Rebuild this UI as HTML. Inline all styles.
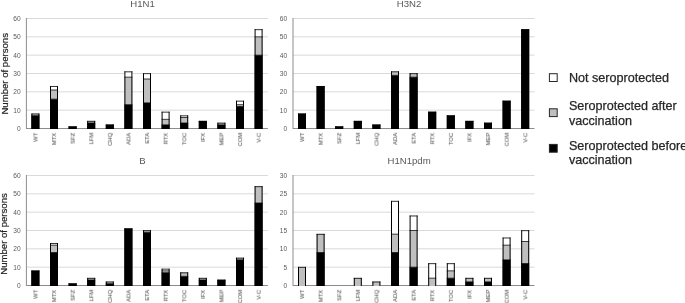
<!DOCTYPE html>
<html><head><meta charset="utf-8"><title>Seroprotection charts</title>
<style>
html,body{margin:0;padding:0;background:#fff;}
body{width:685px;height:303px;overflow:hidden;}
svg{display:block;will-change:transform;font-family:"Liberation Sans",sans-serif;}
</style></head><body>
<svg width="685" height="303" viewBox="0 0 685 303">
<defs><filter id="sb" x="-20%" y="-20%" width="140%" height="140%"><feGaussianBlur stdDeviation="0.3"/></filter></defs>
<rect width="685" height="303" fill="#fff"/>
<line x1="26.4" y1="110.17" x2="267.9" y2="110.17" stroke="#d9d9d9" stroke-width="1"/>
<line x1="26.4" y1="91.83" x2="267.9" y2="91.83" stroke="#d9d9d9" stroke-width="1"/>
<line x1="26.4" y1="73.5" x2="267.9" y2="73.5" stroke="#d9d9d9" stroke-width="1"/>
<line x1="26.4" y1="55.17" x2="267.9" y2="55.17" stroke="#d9d9d9" stroke-width="1"/>
<line x1="26.4" y1="36.83" x2="267.9" y2="36.83" stroke="#d9d9d9" stroke-width="1"/>
<line x1="26.4" y1="18.5" x2="267.9" y2="18.5" stroke="#d9d9d9" stroke-width="1"/>
<text x="20.6" y="130.88" font-size="6.6" fill="#595959" text-anchor="end">0</text>
<text x="20.6" y="112.54" font-size="6.6" fill="#595959" text-anchor="end">10</text>
<text x="20.6" y="94.21" font-size="6.6" fill="#595959" text-anchor="end">20</text>
<text x="20.6" y="75.88" font-size="6.6" fill="#595959" text-anchor="end">30</text>
<text x="20.6" y="57.54" font-size="6.6" fill="#595959" text-anchor="end">40</text>
<text x="20.6" y="39.21" font-size="6.6" fill="#595959" text-anchor="end">50</text>
<text x="20.6" y="20.88" font-size="6.6" fill="#595959" text-anchor="end">60</text>
<line x1="26.4" y1="18" x2="26.4" y2="129" stroke="#8c8c8c" stroke-width="1"/>
<line x1="26.4" y1="128.5" x2="267.9" y2="128.5" stroke="#8c8c8c" stroke-width="1"/>
<rect x="31.4" y="115.67" width="8" height="13.33" fill="#000"/>
<rect x="31.4" y="113.58" width="8" height="2.08" fill="#bfbfbf"/>
<path d="M31.9 129V113.58M38.9 113.58V129" fill="none" stroke="#000" stroke-width="1"/>
<line x1="31.4" y1="113.98" x2="39.4" y2="113.98" stroke="#000" stroke-width="0.8"/>
<line x1="31.4" y1="115.67" x2="39.4" y2="115.67" stroke="#000" stroke-width="0.75"/>
<text transform="translate(37.49 132.8) rotate(-90) scale(1 1)" font-size="5.8" fill="#595959" stroke="#595959" stroke-width="0.08" text-anchor="end" filter="url(#sb)">WT</text>
<rect x="50" y="99.17" width="8" height="29.83" fill="#000"/>
<rect x="50" y="90" width="8" height="9.17" fill="#bfbfbf"/>
<rect x="50" y="86.08" width="8" height="3.92" fill="#fff"/>
<path d="M50.5 129V86.08M57.5 86.08V129" fill="none" stroke="#000" stroke-width="1"/>
<line x1="50" y1="86.48" x2="58" y2="86.48" stroke="#000" stroke-width="0.8"/>
<line x1="50" y1="99.17" x2="58" y2="99.17" stroke="#000" stroke-width="0.75"/>
<line x1="50" y1="90" x2="58" y2="90" stroke="#000" stroke-width="0.75"/>
<text transform="translate(56.09 132.8) rotate(-90) scale(1 1)" font-size="5.8" fill="#595959" stroke="#595959" stroke-width="0.08" text-anchor="end" filter="url(#sb)">MTX</text>
<rect x="68.6" y="126.42" width="8" height="2.58" fill="#000"/>
<path d="M69.1 129V126.42M76.1 126.42V129" fill="none" stroke="#000" stroke-width="1"/>
<line x1="68.6" y1="126.82" x2="76.6" y2="126.82" stroke="#000" stroke-width="0.8"/>
<text transform="translate(74.69 132.8) rotate(-90) scale(1 1)" font-size="5.8" fill="#595959" stroke="#595959" stroke-width="0.08" text-anchor="end" filter="url(#sb)">SFZ</text>
<rect x="87.2" y="123" width="8" height="6" fill="#000"/>
<rect x="87.2" y="120.92" width="8" height="2.08" fill="#bfbfbf"/>
<path d="M87.7 129V120.92M94.7 120.92V129" fill="none" stroke="#000" stroke-width="1"/>
<line x1="87.2" y1="121.32" x2="95.2" y2="121.32" stroke="#000" stroke-width="0.8"/>
<line x1="87.2" y1="123" x2="95.2" y2="123" stroke="#000" stroke-width="0.75"/>
<text transform="translate(93.29 132.8) rotate(-90) scale(1 1)" font-size="5.8" fill="#595959" stroke="#595959" stroke-width="0.08" text-anchor="end" filter="url(#sb)">LFM</text>
<rect x="105.8" y="124.58" width="8" height="4.42" fill="#000"/>
<path d="M106.3 129V124.58M113.3 124.58V129" fill="none" stroke="#000" stroke-width="1"/>
<line x1="105.8" y1="124.98" x2="113.8" y2="124.98" stroke="#000" stroke-width="0.8"/>
<text transform="translate(111.89 132.8) rotate(-90) scale(1 1)" font-size="5.8" fill="#595959" stroke="#595959" stroke-width="0.08" text-anchor="end" filter="url(#sb)">CHQ</text>
<rect x="124.4" y="104.67" width="8" height="24.33" fill="#000"/>
<rect x="124.4" y="77.17" width="8" height="27.5" fill="#bfbfbf"/>
<rect x="124.4" y="71.42" width="8" height="5.75" fill="#fff"/>
<path d="M124.9 129V71.42M131.9 71.42V129" fill="none" stroke="#000" stroke-width="1"/>
<line x1="124.4" y1="71.82" x2="132.4" y2="71.82" stroke="#000" stroke-width="0.8"/>
<line x1="124.4" y1="104.67" x2="132.4" y2="104.67" stroke="#000" stroke-width="0.75"/>
<line x1="124.4" y1="77.17" x2="132.4" y2="77.17" stroke="#000" stroke-width="0.75"/>
<text transform="translate(130.49 132.8) rotate(-90) scale(1 1)" font-size="5.8" fill="#595959" stroke="#595959" stroke-width="0.08" text-anchor="end" filter="url(#sb)">ADA</text>
<rect x="143" y="102.83" width="8" height="26.17" fill="#000"/>
<rect x="143" y="79" width="8" height="23.83" fill="#bfbfbf"/>
<rect x="143" y="73.25" width="8" height="5.75" fill="#fff"/>
<path d="M143.5 129V73.25M150.5 73.25V129" fill="none" stroke="#000" stroke-width="1"/>
<line x1="143" y1="73.65" x2="151" y2="73.65" stroke="#000" stroke-width="0.8"/>
<line x1="143" y1="102.83" x2="151" y2="102.83" stroke="#000" stroke-width="0.75"/>
<line x1="143" y1="79" x2="151" y2="79" stroke="#000" stroke-width="0.75"/>
<text transform="translate(149.09 132.8) rotate(-90) scale(1 1)" font-size="5.8" fill="#595959" stroke="#595959" stroke-width="0.08" text-anchor="end" filter="url(#sb)">ETA</text>
<rect x="161.6" y="124.83" width="8" height="4.17" fill="#000"/>
<rect x="161.6" y="119.33" width="8" height="5.5" fill="#bfbfbf"/>
<rect x="161.6" y="111.75" width="8" height="7.58" fill="#fff"/>
<path d="M162.1 129V111.75M169.1 111.75V129" fill="none" stroke="#000" stroke-width="1"/>
<line x1="161.6" y1="112.15" x2="169.6" y2="112.15" stroke="#000" stroke-width="0.8"/>
<line x1="161.6" y1="124.83" x2="169.6" y2="124.83" stroke="#000" stroke-width="0.75"/>
<line x1="161.6" y1="119.33" x2="169.6" y2="119.33" stroke="#000" stroke-width="0.75"/>
<text transform="translate(167.69 132.8) rotate(-90) scale(1 1)" font-size="5.8" fill="#595959" stroke="#595959" stroke-width="0.08" text-anchor="end" filter="url(#sb)">RTX</text>
<rect x="180.2" y="123" width="8" height="6" fill="#000"/>
<rect x="180.2" y="117.5" width="8" height="5.5" fill="#bfbfbf"/>
<rect x="180.2" y="115.42" width="8" height="2.08" fill="#fff"/>
<path d="M180.7 129V115.42M187.7 115.42V129" fill="none" stroke="#000" stroke-width="1"/>
<line x1="180.2" y1="115.82" x2="188.2" y2="115.82" stroke="#000" stroke-width="0.8"/>
<line x1="180.2" y1="123" x2="188.2" y2="123" stroke="#000" stroke-width="0.75"/>
<line x1="180.2" y1="117.5" x2="188.2" y2="117.5" stroke="#000" stroke-width="0.75"/>
<text transform="translate(186.29 132.8) rotate(-90) scale(1 1)" font-size="5.8" fill="#595959" stroke="#595959" stroke-width="0.08" text-anchor="end" filter="url(#sb)">TOC</text>
<rect x="198.8" y="120.92" width="8" height="8.08" fill="#000"/>
<path d="M199.3 129V120.92M206.3 120.92V129" fill="none" stroke="#000" stroke-width="1"/>
<line x1="198.8" y1="121.32" x2="206.8" y2="121.32" stroke="#000" stroke-width="0.8"/>
<text transform="translate(204.89 132.8) rotate(-90) scale(1 1)" font-size="5.8" fill="#595959" stroke="#595959" stroke-width="0.08" text-anchor="end" filter="url(#sb)">IFX</text>
<rect x="217.4" y="124.83" width="8" height="4.17" fill="#000"/>
<rect x="217.4" y="122.75" width="8" height="2.08" fill="#bfbfbf"/>
<path d="M217.9 129V122.75M224.9 122.75V129" fill="none" stroke="#000" stroke-width="1"/>
<line x1="217.4" y1="123.15" x2="225.4" y2="123.15" stroke="#000" stroke-width="0.8"/>
<line x1="217.4" y1="124.83" x2="225.4" y2="124.83" stroke="#000" stroke-width="0.75"/>
<text transform="translate(223.49 132.8) rotate(-90) scale(1 1)" font-size="5.8" fill="#595959" stroke="#595959" stroke-width="0.08" text-anchor="end" filter="url(#sb)">MEP</text>
<rect x="236" y="106.5" width="8" height="22.5" fill="#000"/>
<rect x="236" y="104.67" width="8" height="1.83" fill="#bfbfbf"/>
<rect x="236" y="100.75" width="8" height="3.92" fill="#fff"/>
<path d="M236.5 129V100.75M243.5 100.75V129" fill="none" stroke="#000" stroke-width="1"/>
<line x1="236" y1="101.15" x2="244" y2="101.15" stroke="#000" stroke-width="0.8"/>
<line x1="236" y1="106.5" x2="244" y2="106.5" stroke="#000" stroke-width="0.75"/>
<line x1="236" y1="104.67" x2="244" y2="104.67" stroke="#000" stroke-width="0.75"/>
<text transform="translate(242.09 132.8) rotate(-90) scale(1 1)" font-size="5.8" fill="#595959" stroke="#595959" stroke-width="0.08" text-anchor="end" filter="url(#sb)">COM</text>
<rect x="254.6" y="55.17" width="8" height="73.83" fill="#000"/>
<rect x="254.6" y="36.83" width="8" height="18.33" fill="#bfbfbf"/>
<rect x="254.6" y="29.25" width="8" height="7.58" fill="#fff"/>
<path d="M255.1 129V29.25M262.1 29.25V129" fill="none" stroke="#000" stroke-width="1"/>
<line x1="254.6" y1="29.65" x2="262.6" y2="29.65" stroke="#000" stroke-width="0.8"/>
<line x1="254.6" y1="55.17" x2="262.6" y2="55.17" stroke="#000" stroke-width="0.75"/>
<line x1="254.6" y1="36.83" x2="262.6" y2="36.83" stroke="#000" stroke-width="0.75"/>
<text transform="translate(260.69 132.8) rotate(-90) scale(1 1)" font-size="5.8" fill="#595959" stroke="#595959" stroke-width="0.08" text-anchor="end" filter="url(#sb)">V-C</text>
<text x="142.5" y="6.7" font-size="9.6" fill="#595959" text-anchor="middle">H1N1</text>
<text transform="translate(8.3 73.8) rotate(-90)" font-size="9.6" fill="#262626" stroke="#262626" stroke-width="0.2" text-anchor="middle">Number of persons</text>
<line x1="293" y1="110.17" x2="534.5" y2="110.17" stroke="#d9d9d9" stroke-width="1"/>
<line x1="293" y1="91.83" x2="534.5" y2="91.83" stroke="#d9d9d9" stroke-width="1"/>
<line x1="293" y1="73.5" x2="534.5" y2="73.5" stroke="#d9d9d9" stroke-width="1"/>
<line x1="293" y1="55.17" x2="534.5" y2="55.17" stroke="#d9d9d9" stroke-width="1"/>
<line x1="293" y1="36.83" x2="534.5" y2="36.83" stroke="#d9d9d9" stroke-width="1"/>
<line x1="293" y1="18.5" x2="534.5" y2="18.5" stroke="#d9d9d9" stroke-width="1"/>
<text x="287.2" y="130.88" font-size="6.6" fill="#595959" text-anchor="end">0</text>
<text x="287.2" y="112.54" font-size="6.6" fill="#595959" text-anchor="end">10</text>
<text x="287.2" y="94.21" font-size="6.6" fill="#595959" text-anchor="end">20</text>
<text x="287.2" y="75.88" font-size="6.6" fill="#595959" text-anchor="end">30</text>
<text x="287.2" y="57.54" font-size="6.6" fill="#595959" text-anchor="end">40</text>
<text x="287.2" y="39.21" font-size="6.6" fill="#595959" text-anchor="end">50</text>
<text x="287.2" y="20.88" font-size="6.6" fill="#595959" text-anchor="end">60</text>
<line x1="293" y1="18" x2="293" y2="129" stroke="#8c8c8c" stroke-width="1"/>
<line x1="293" y1="128.5" x2="534.5" y2="128.5" stroke="#8c8c8c" stroke-width="1"/>
<rect x="298" y="113.58" width="8" height="15.42" fill="#000"/>
<path d="M298.5 129V113.58M305.5 113.58V129" fill="none" stroke="#000" stroke-width="1"/>
<line x1="298" y1="113.98" x2="306" y2="113.98" stroke="#000" stroke-width="0.8"/>
<text transform="translate(304.09 132.8) rotate(-90) scale(1 1)" font-size="5.8" fill="#595959" stroke="#595959" stroke-width="0.08" text-anchor="end" filter="url(#sb)">WT</text>
<rect x="316.6" y="86.08" width="8" height="42.92" fill="#000"/>
<path d="M317.1 129V86.08M324.1 86.08V129" fill="none" stroke="#000" stroke-width="1"/>
<line x1="316.6" y1="86.48" x2="324.6" y2="86.48" stroke="#000" stroke-width="0.8"/>
<text transform="translate(322.69 132.8) rotate(-90) scale(1 1)" font-size="5.8" fill="#595959" stroke="#595959" stroke-width="0.08" text-anchor="end" filter="url(#sb)">MTX</text>
<rect x="335.2" y="126.42" width="8" height="2.58" fill="#000"/>
<path d="M335.7 129V126.42M342.7 126.42V129" fill="none" stroke="#000" stroke-width="1"/>
<line x1="335.2" y1="126.82" x2="343.2" y2="126.82" stroke="#000" stroke-width="0.8"/>
<text transform="translate(341.29 132.8) rotate(-90) scale(1 1)" font-size="5.8" fill="#595959" stroke="#595959" stroke-width="0.08" text-anchor="end" filter="url(#sb)">SFZ</text>
<rect x="353.8" y="120.92" width="8" height="8.08" fill="#000"/>
<path d="M354.3 129V120.92M361.3 120.92V129" fill="none" stroke="#000" stroke-width="1"/>
<line x1="353.8" y1="121.32" x2="361.8" y2="121.32" stroke="#000" stroke-width="0.8"/>
<text transform="translate(359.89 132.8) rotate(-90) scale(1 1)" font-size="5.8" fill="#595959" stroke="#595959" stroke-width="0.08" text-anchor="end" filter="url(#sb)">LFM</text>
<rect x="372.4" y="124.58" width="8" height="4.42" fill="#000"/>
<path d="M372.9 129V124.58M379.9 124.58V129" fill="none" stroke="#000" stroke-width="1"/>
<line x1="372.4" y1="124.98" x2="380.4" y2="124.98" stroke="#000" stroke-width="0.8"/>
<text transform="translate(378.49 132.8) rotate(-90) scale(1 1)" font-size="5.8" fill="#595959" stroke="#595959" stroke-width="0.08" text-anchor="end" filter="url(#sb)">CHQ</text>
<rect x="391" y="75.33" width="8" height="53.67" fill="#000"/>
<rect x="391" y="71.42" width="8" height="3.92" fill="#bfbfbf"/>
<path d="M391.5 129V71.42M398.5 71.42V129" fill="none" stroke="#000" stroke-width="1"/>
<line x1="391" y1="71.82" x2="399" y2="71.82" stroke="#000" stroke-width="0.8"/>
<line x1="391" y1="75.33" x2="399" y2="75.33" stroke="#000" stroke-width="0.75"/>
<text transform="translate(397.09 132.8) rotate(-90) scale(1 1)" font-size="5.8" fill="#595959" stroke="#595959" stroke-width="0.08" text-anchor="end" filter="url(#sb)">ADA</text>
<rect x="409.6" y="77.17" width="8" height="51.83" fill="#000"/>
<rect x="409.6" y="73.25" width="8" height="3.92" fill="#bfbfbf"/>
<path d="M410.1 129V73.25M417.1 73.25V129" fill="none" stroke="#000" stroke-width="1"/>
<line x1="409.6" y1="73.65" x2="417.6" y2="73.65" stroke="#000" stroke-width="0.8"/>
<line x1="409.6" y1="77.17" x2="417.6" y2="77.17" stroke="#000" stroke-width="0.75"/>
<text transform="translate(415.69 132.8) rotate(-90) scale(1 1)" font-size="5.8" fill="#595959" stroke="#595959" stroke-width="0.08" text-anchor="end" filter="url(#sb)">ETA</text>
<rect x="428.2" y="111.75" width="8" height="17.25" fill="#000"/>
<path d="M428.7 129V111.75M435.7 111.75V129" fill="none" stroke="#000" stroke-width="1"/>
<line x1="428.2" y1="112.15" x2="436.2" y2="112.15" stroke="#000" stroke-width="0.8"/>
<text transform="translate(434.29 132.8) rotate(-90) scale(1 1)" font-size="5.8" fill="#595959" stroke="#595959" stroke-width="0.08" text-anchor="end" filter="url(#sb)">RTX</text>
<rect x="446.8" y="115.42" width="8" height="13.58" fill="#000"/>
<path d="M447.3 129V115.42M454.3 115.42V129" fill="none" stroke="#000" stroke-width="1"/>
<line x1="446.8" y1="115.82" x2="454.8" y2="115.82" stroke="#000" stroke-width="0.8"/>
<text transform="translate(452.89 132.8) rotate(-90) scale(1 1)" font-size="5.8" fill="#595959" stroke="#595959" stroke-width="0.08" text-anchor="end" filter="url(#sb)">TOC</text>
<rect x="465.4" y="120.92" width="8" height="8.08" fill="#000"/>
<path d="M465.9 129V120.92M472.9 120.92V129" fill="none" stroke="#000" stroke-width="1"/>
<line x1="465.4" y1="121.32" x2="473.4" y2="121.32" stroke="#000" stroke-width="0.8"/>
<text transform="translate(471.49 132.8) rotate(-90) scale(1 1)" font-size="5.8" fill="#595959" stroke="#595959" stroke-width="0.08" text-anchor="end" filter="url(#sb)">IFX</text>
<rect x="484" y="122.75" width="8" height="6.25" fill="#000"/>
<path d="M484.5 129V122.75M491.5 122.75V129" fill="none" stroke="#000" stroke-width="1"/>
<line x1="484" y1="123.15" x2="492" y2="123.15" stroke="#000" stroke-width="0.8"/>
<text transform="translate(490.09 132.8) rotate(-90) scale(1 1)" font-size="5.8" fill="#595959" stroke="#595959" stroke-width="0.08" text-anchor="end" filter="url(#sb)">MEP</text>
<rect x="502.6" y="100.75" width="8" height="28.25" fill="#000"/>
<path d="M503.1 129V100.75M510.1 100.75V129" fill="none" stroke="#000" stroke-width="1"/>
<line x1="502.6" y1="101.15" x2="510.6" y2="101.15" stroke="#000" stroke-width="0.8"/>
<text transform="translate(508.69 132.8) rotate(-90) scale(1 1)" font-size="5.8" fill="#595959" stroke="#595959" stroke-width="0.08" text-anchor="end" filter="url(#sb)">COM</text>
<rect x="521.2" y="29.25" width="8" height="99.75" fill="#000"/>
<path d="M521.7 129V29.25M528.7 29.25V129" fill="none" stroke="#000" stroke-width="1"/>
<line x1="521.2" y1="29.65" x2="529.2" y2="29.65" stroke="#000" stroke-width="0.8"/>
<text transform="translate(527.29 132.8) rotate(-90) scale(1 1)" font-size="5.8" fill="#595959" stroke="#595959" stroke-width="0.08" text-anchor="end" filter="url(#sb)">V-C</text>
<text x="409.1" y="6.7" font-size="9.6" fill="#595959" text-anchor="middle">H3N2</text>
<line x1="26.4" y1="267.17" x2="267.9" y2="267.17" stroke="#d9d9d9" stroke-width="1"/>
<line x1="26.4" y1="248.83" x2="267.9" y2="248.83" stroke="#d9d9d9" stroke-width="1"/>
<line x1="26.4" y1="230.5" x2="267.9" y2="230.5" stroke="#d9d9d9" stroke-width="1"/>
<line x1="26.4" y1="212.17" x2="267.9" y2="212.17" stroke="#d9d9d9" stroke-width="1"/>
<line x1="26.4" y1="193.83" x2="267.9" y2="193.83" stroke="#d9d9d9" stroke-width="1"/>
<line x1="26.4" y1="175.5" x2="267.9" y2="175.5" stroke="#d9d9d9" stroke-width="1"/>
<text x="20.6" y="287.88" font-size="6.6" fill="#595959" text-anchor="end">0</text>
<text x="20.6" y="269.54" font-size="6.6" fill="#595959" text-anchor="end">10</text>
<text x="20.6" y="251.21" font-size="6.6" fill="#595959" text-anchor="end">20</text>
<text x="20.6" y="232.88" font-size="6.6" fill="#595959" text-anchor="end">30</text>
<text x="20.6" y="214.54" font-size="6.6" fill="#595959" text-anchor="end">40</text>
<text x="20.6" y="196.21" font-size="6.6" fill="#595959" text-anchor="end">50</text>
<text x="20.6" y="177.88" font-size="6.6" fill="#595959" text-anchor="end">60</text>
<line x1="26.4" y1="175" x2="26.4" y2="286" stroke="#8c8c8c" stroke-width="1"/>
<line x1="26.4" y1="285.5" x2="267.9" y2="285.5" stroke="#8c8c8c" stroke-width="1"/>
<rect x="31.4" y="270.58" width="8" height="15.42" fill="#000"/>
<path d="M31.9 286V270.58M38.9 270.58V286" fill="none" stroke="#000" stroke-width="1"/>
<line x1="31.4" y1="270.98" x2="39.4" y2="270.98" stroke="#000" stroke-width="0.8"/>
<text transform="translate(37.49 289.8) rotate(-90) scale(1 1)" font-size="5.8" fill="#595959" stroke="#595959" stroke-width="0.08" text-anchor="end" filter="url(#sb)">WT</text>
<rect x="50" y="252.5" width="8" height="33.5" fill="#000"/>
<rect x="50" y="245.17" width="8" height="7.33" fill="#bfbfbf"/>
<rect x="50" y="243.08" width="8" height="2.08" fill="#fff"/>
<path d="M50.5 286V243.08M57.5 243.08V286" fill="none" stroke="#000" stroke-width="1"/>
<line x1="50" y1="243.48" x2="58" y2="243.48" stroke="#000" stroke-width="0.8"/>
<line x1="50" y1="252.5" x2="58" y2="252.5" stroke="#000" stroke-width="0.75"/>
<line x1="50" y1="245.17" x2="58" y2="245.17" stroke="#000" stroke-width="0.75"/>
<text transform="translate(56.09 289.8) rotate(-90) scale(1 1)" font-size="5.8" fill="#595959" stroke="#595959" stroke-width="0.08" text-anchor="end" filter="url(#sb)">MTX</text>
<rect x="68.6" y="283.42" width="8" height="2.58" fill="#000"/>
<path d="M69.1 286V283.42M76.1 283.42V286" fill="none" stroke="#000" stroke-width="1"/>
<line x1="68.6" y1="283.82" x2="76.6" y2="283.82" stroke="#000" stroke-width="0.8"/>
<text transform="translate(74.69 289.8) rotate(-90) scale(1 1)" font-size="5.8" fill="#595959" stroke="#595959" stroke-width="0.08" text-anchor="end" filter="url(#sb)">SFZ</text>
<rect x="87.2" y="280" width="8" height="6" fill="#000"/>
<rect x="87.2" y="277.92" width="8" height="2.08" fill="#bfbfbf"/>
<path d="M87.7 286V277.92M94.7 277.92V286" fill="none" stroke="#000" stroke-width="1"/>
<line x1="87.2" y1="278.32" x2="95.2" y2="278.32" stroke="#000" stroke-width="0.8"/>
<line x1="87.2" y1="280" x2="95.2" y2="280" stroke="#000" stroke-width="0.75"/>
<text transform="translate(93.29 289.8) rotate(-90) scale(1 1)" font-size="5.8" fill="#595959" stroke="#595959" stroke-width="0.08" text-anchor="end" filter="url(#sb)">LFM</text>
<rect x="105.8" y="283.67" width="8" height="2.33" fill="#000"/>
<rect x="105.8" y="281.58" width="8" height="2.08" fill="#bfbfbf"/>
<path d="M106.3 286V281.58M113.3 281.58V286" fill="none" stroke="#000" stroke-width="1"/>
<line x1="105.8" y1="281.98" x2="113.8" y2="281.98" stroke="#000" stroke-width="0.8"/>
<line x1="105.8" y1="283.67" x2="113.8" y2="283.67" stroke="#000" stroke-width="0.75"/>
<text transform="translate(111.89 289.8) rotate(-90) scale(1 1)" font-size="5.8" fill="#595959" stroke="#595959" stroke-width="0.08" text-anchor="end" filter="url(#sb)">CHQ</text>
<rect x="124.4" y="228.42" width="8" height="57.58" fill="#000"/>
<path d="M124.9 286V228.42M131.9 228.42V286" fill="none" stroke="#000" stroke-width="1"/>
<line x1="124.4" y1="228.82" x2="132.4" y2="228.82" stroke="#000" stroke-width="0.8"/>
<text transform="translate(130.49 289.8) rotate(-90) scale(1 1)" font-size="5.8" fill="#595959" stroke="#595959" stroke-width="0.08" text-anchor="end" filter="url(#sb)">ADA</text>
<rect x="143" y="232.33" width="8" height="53.67" fill="#000"/>
<rect x="143" y="230.25" width="8" height="2.08" fill="#bfbfbf"/>
<path d="M143.5 286V230.25M150.5 230.25V286" fill="none" stroke="#000" stroke-width="1"/>
<line x1="143" y1="230.65" x2="151" y2="230.65" stroke="#000" stroke-width="0.8"/>
<line x1="143" y1="232.33" x2="151" y2="232.33" stroke="#000" stroke-width="0.75"/>
<text transform="translate(149.09 289.8) rotate(-90) scale(1 1)" font-size="5.8" fill="#595959" stroke="#595959" stroke-width="0.08" text-anchor="end" filter="url(#sb)">ETA</text>
<rect x="161.6" y="272.67" width="8" height="13.33" fill="#000"/>
<rect x="161.6" y="270.83" width="8" height="1.83" fill="#bfbfbf"/>
<rect x="161.6" y="268.75" width="8" height="2.08" fill="#fff"/>
<path d="M162.1 286V268.75M169.1 268.75V286" fill="none" stroke="#000" stroke-width="1"/>
<line x1="161.6" y1="269.15" x2="169.6" y2="269.15" stroke="#000" stroke-width="0.8"/>
<line x1="161.6" y1="272.67" x2="169.6" y2="272.67" stroke="#000" stroke-width="0.75"/>
<line x1="161.6" y1="270.83" x2="169.6" y2="270.83" stroke="#000" stroke-width="0.75"/>
<text transform="translate(167.69 289.8) rotate(-90) scale(1 1)" font-size="5.8" fill="#595959" stroke="#595959" stroke-width="0.08" text-anchor="end" filter="url(#sb)">RTX</text>
<rect x="180.2" y="276.33" width="8" height="9.67" fill="#000"/>
<rect x="180.2" y="272.42" width="8" height="3.92" fill="#bfbfbf"/>
<path d="M180.7 286V272.42M187.7 272.42V286" fill="none" stroke="#000" stroke-width="1"/>
<line x1="180.2" y1="272.82" x2="188.2" y2="272.82" stroke="#000" stroke-width="0.8"/>
<line x1="180.2" y1="276.33" x2="188.2" y2="276.33" stroke="#000" stroke-width="0.75"/>
<text transform="translate(186.29 289.8) rotate(-90) scale(1 1)" font-size="5.8" fill="#595959" stroke="#595959" stroke-width="0.08" text-anchor="end" filter="url(#sb)">TOC</text>
<rect x="198.8" y="280" width="8" height="6" fill="#000"/>
<rect x="198.8" y="277.92" width="8" height="2.08" fill="#bfbfbf"/>
<path d="M199.3 286V277.92M206.3 277.92V286" fill="none" stroke="#000" stroke-width="1"/>
<line x1="198.8" y1="278.32" x2="206.8" y2="278.32" stroke="#000" stroke-width="0.8"/>
<line x1="198.8" y1="280" x2="206.8" y2="280" stroke="#000" stroke-width="0.75"/>
<text transform="translate(204.89 289.8) rotate(-90) scale(1 1)" font-size="5.8" fill="#595959" stroke="#595959" stroke-width="0.08" text-anchor="end" filter="url(#sb)">IFX</text>
<rect x="217.4" y="279.75" width="8" height="6.25" fill="#000"/>
<path d="M217.9 286V279.75M224.9 279.75V286" fill="none" stroke="#000" stroke-width="1"/>
<line x1="217.4" y1="280.15" x2="225.4" y2="280.15" stroke="#000" stroke-width="0.8"/>
<text transform="translate(223.49 289.8) rotate(-90) scale(1 1)" font-size="5.8" fill="#595959" stroke="#595959" stroke-width="0.08" text-anchor="end" filter="url(#sb)">MEP</text>
<rect x="236" y="259.83" width="8" height="26.17" fill="#000"/>
<rect x="236" y="257.75" width="8" height="2.08" fill="#bfbfbf"/>
<path d="M236.5 286V257.75M243.5 257.75V286" fill="none" stroke="#000" stroke-width="1"/>
<line x1="236" y1="258.15" x2="244" y2="258.15" stroke="#000" stroke-width="0.8"/>
<line x1="236" y1="259.83" x2="244" y2="259.83" stroke="#000" stroke-width="0.75"/>
<text transform="translate(242.09 289.8) rotate(-90) scale(1 1)" font-size="5.8" fill="#595959" stroke="#595959" stroke-width="0.08" text-anchor="end" filter="url(#sb)">COM</text>
<rect x="254.6" y="203" width="8" height="83" fill="#000"/>
<rect x="254.6" y="186.25" width="8" height="16.75" fill="#bfbfbf"/>
<path d="M255.1 286V186.25M262.1 186.25V286" fill="none" stroke="#000" stroke-width="1"/>
<line x1="254.6" y1="186.65" x2="262.6" y2="186.65" stroke="#000" stroke-width="0.8"/>
<line x1="254.6" y1="203" x2="262.6" y2="203" stroke="#000" stroke-width="0.75"/>
<text transform="translate(260.69 289.8) rotate(-90) scale(1 1)" font-size="5.8" fill="#595959" stroke="#595959" stroke-width="0.08" text-anchor="end" filter="url(#sb)">V-C</text>
<text x="142.5" y="163.7" font-size="9.6" fill="#595959" text-anchor="middle">B</text>
<text transform="translate(7.3 234) rotate(-90)" font-size="9.6" fill="#262626" stroke="#262626" stroke-width="0.2" text-anchor="middle">Number of persons</text>
<line x1="293" y1="267.17" x2="534.5" y2="267.17" stroke="#d9d9d9" stroke-width="1"/>
<line x1="293" y1="248.83" x2="534.5" y2="248.83" stroke="#d9d9d9" stroke-width="1"/>
<line x1="293" y1="230.5" x2="534.5" y2="230.5" stroke="#d9d9d9" stroke-width="1"/>
<line x1="293" y1="212.17" x2="534.5" y2="212.17" stroke="#d9d9d9" stroke-width="1"/>
<line x1="293" y1="193.83" x2="534.5" y2="193.83" stroke="#d9d9d9" stroke-width="1"/>
<line x1="293" y1="175.5" x2="534.5" y2="175.5" stroke="#d9d9d9" stroke-width="1"/>
<text x="287.2" y="287.88" font-size="6.6" fill="#595959" text-anchor="end">0</text>
<text x="287.2" y="269.54" font-size="6.6" fill="#595959" text-anchor="end">5</text>
<text x="287.2" y="251.21" font-size="6.6" fill="#595959" text-anchor="end">10</text>
<text x="287.2" y="232.88" font-size="6.6" fill="#595959" text-anchor="end">15</text>
<text x="287.2" y="214.54" font-size="6.6" fill="#595959" text-anchor="end">20</text>
<text x="287.2" y="196.21" font-size="6.6" fill="#595959" text-anchor="end">25</text>
<text x="287.2" y="177.88" font-size="6.6" fill="#595959" text-anchor="end">30</text>
<line x1="293" y1="175" x2="293" y2="286" stroke="#8c8c8c" stroke-width="1"/>
<line x1="293" y1="285.5" x2="534.5" y2="285.5" stroke="#8c8c8c" stroke-width="1"/>
<rect x="298" y="266.92" width="8" height="19.08" fill="#bfbfbf"/>
<path d="M298.5 286V266.92M305.5 266.92V286" fill="none" stroke="#000" stroke-width="1"/>
<line x1="298" y1="267.32" x2="306" y2="267.32" stroke="#000" stroke-width="0.8"/>
<text transform="translate(304.09 289.8) rotate(-90) scale(1 1)" font-size="5.8" fill="#595959" stroke="#595959" stroke-width="0.08" text-anchor="end" filter="url(#sb)">WT</text>
<rect x="316.6" y="252.5" width="8" height="33.5" fill="#000"/>
<rect x="316.6" y="233.92" width="8" height="18.58" fill="#bfbfbf"/>
<path d="M317.1 286V233.92M324.1 233.92V286" fill="none" stroke="#000" stroke-width="1"/>
<line x1="316.6" y1="234.32" x2="324.6" y2="234.32" stroke="#000" stroke-width="0.8"/>
<line x1="316.6" y1="252.5" x2="324.6" y2="252.5" stroke="#000" stroke-width="0.75"/>
<text transform="translate(322.69 289.8) rotate(-90) scale(1 1)" font-size="5.8" fill="#595959" stroke="#595959" stroke-width="0.08" text-anchor="end" filter="url(#sb)">MTX</text>
<text transform="translate(341.29 289.8) rotate(-90) scale(1 1)" font-size="5.8" fill="#595959" stroke="#595959" stroke-width="0.08" text-anchor="end" filter="url(#sb)">SFZ</text>
<rect x="353.8" y="277.92" width="8" height="8.08" fill="#bfbfbf"/>
<path d="M354.3 286V277.92M361.3 277.92V286" fill="none" stroke="#000" stroke-width="1"/>
<line x1="353.8" y1="278.32" x2="361.8" y2="278.32" stroke="#000" stroke-width="0.8"/>
<text transform="translate(359.89 289.8) rotate(-90) scale(1 1)" font-size="5.8" fill="#595959" stroke="#595959" stroke-width="0.08" text-anchor="end" filter="url(#sb)">LFM</text>
<rect x="372.4" y="281.58" width="8" height="4.42" fill="#bfbfbf"/>
<path d="M372.9 286V281.58M379.9 281.58V286" fill="none" stroke="#000" stroke-width="1"/>
<line x1="372.4" y1="281.98" x2="380.4" y2="281.98" stroke="#000" stroke-width="0.8"/>
<text transform="translate(378.49 289.8) rotate(-90) scale(1 1)" font-size="5.8" fill="#595959" stroke="#595959" stroke-width="0.08" text-anchor="end" filter="url(#sb)">CHQ</text>
<rect x="391" y="252.5" width="8" height="33.5" fill="#000"/>
<rect x="391" y="234.17" width="8" height="18.33" fill="#bfbfbf"/>
<rect x="391" y="200.92" width="8" height="33.25" fill="#fff"/>
<path d="M391.5 286V200.92M398.5 200.92V286" fill="none" stroke="#000" stroke-width="1"/>
<line x1="391" y1="201.32" x2="399" y2="201.32" stroke="#000" stroke-width="0.8"/>
<line x1="391" y1="252.5" x2="399" y2="252.5" stroke="#000" stroke-width="0.75"/>
<line x1="391" y1="234.17" x2="399" y2="234.17" stroke="#000" stroke-width="0.75"/>
<text transform="translate(397.09 289.8) rotate(-90) scale(1 1)" font-size="5.8" fill="#595959" stroke="#595959" stroke-width="0.08" text-anchor="end" filter="url(#sb)">ADA</text>
<rect x="409.6" y="267.17" width="8" height="18.83" fill="#000"/>
<rect x="409.6" y="230.5" width="8" height="36.67" fill="#bfbfbf"/>
<rect x="409.6" y="215.58" width="8" height="14.92" fill="#fff"/>
<path d="M410.1 286V215.58M417.1 215.58V286" fill="none" stroke="#000" stroke-width="1"/>
<line x1="409.6" y1="215.98" x2="417.6" y2="215.98" stroke="#000" stroke-width="0.8"/>
<line x1="409.6" y1="267.17" x2="417.6" y2="267.17" stroke="#000" stroke-width="0.75"/>
<line x1="409.6" y1="230.5" x2="417.6" y2="230.5" stroke="#000" stroke-width="0.75"/>
<text transform="translate(415.69 289.8) rotate(-90) scale(1 1)" font-size="5.8" fill="#595959" stroke="#595959" stroke-width="0.08" text-anchor="end" filter="url(#sb)">ETA</text>
<rect x="428.2" y="278.17" width="8" height="7.83" fill="#bfbfbf"/>
<rect x="428.2" y="263.25" width="8" height="14.92" fill="#fff"/>
<path d="M428.7 286V263.25M435.7 263.25V286" fill="none" stroke="#000" stroke-width="1"/>
<line x1="428.2" y1="263.65" x2="436.2" y2="263.65" stroke="#000" stroke-width="0.8"/>
<line x1="428.2" y1="278.17" x2="436.2" y2="278.17" stroke="#000" stroke-width="0.75"/>
<text transform="translate(434.29 289.8) rotate(-90) scale(1 1)" font-size="5.8" fill="#595959" stroke="#595959" stroke-width="0.08" text-anchor="end" filter="url(#sb)">RTX</text>
<rect x="446.8" y="278.17" width="8" height="7.83" fill="#000"/>
<rect x="446.8" y="270.83" width="8" height="7.33" fill="#bfbfbf"/>
<rect x="446.8" y="263.25" width="8" height="7.58" fill="#fff"/>
<path d="M447.3 286V263.25M454.3 263.25V286" fill="none" stroke="#000" stroke-width="1"/>
<line x1="446.8" y1="263.65" x2="454.8" y2="263.65" stroke="#000" stroke-width="0.8"/>
<line x1="446.8" y1="278.17" x2="454.8" y2="278.17" stroke="#000" stroke-width="0.75"/>
<line x1="446.8" y1="270.83" x2="454.8" y2="270.83" stroke="#000" stroke-width="0.75"/>
<text transform="translate(452.89 289.8) rotate(-90) scale(1 1)" font-size="5.8" fill="#595959" stroke="#595959" stroke-width="0.08" text-anchor="end" filter="url(#sb)">TOC</text>
<rect x="465.4" y="281.83" width="8" height="4.17" fill="#000"/>
<rect x="465.4" y="277.92" width="8" height="3.92" fill="#bfbfbf"/>
<path d="M465.9 286V277.92M472.9 277.92V286" fill="none" stroke="#000" stroke-width="1"/>
<line x1="465.4" y1="278.32" x2="473.4" y2="278.32" stroke="#000" stroke-width="0.8"/>
<line x1="465.4" y1="281.83" x2="473.4" y2="281.83" stroke="#000" stroke-width="0.75"/>
<text transform="translate(471.49 289.8) rotate(-90) scale(1 1)" font-size="5.8" fill="#595959" stroke="#595959" stroke-width="0.08" text-anchor="end" filter="url(#sb)">IFX</text>
<rect x="484" y="281.83" width="8" height="4.17" fill="#000"/>
<rect x="484" y="277.92" width="8" height="3.92" fill="#bfbfbf"/>
<path d="M484.5 286V277.92M491.5 277.92V286" fill="none" stroke="#000" stroke-width="1"/>
<line x1="484" y1="278.32" x2="492" y2="278.32" stroke="#000" stroke-width="0.8"/>
<line x1="484" y1="281.83" x2="492" y2="281.83" stroke="#000" stroke-width="0.75"/>
<text transform="translate(490.09 289.8) rotate(-90) scale(1 1)" font-size="5.8" fill="#595959" stroke="#595959" stroke-width="0.08" text-anchor="end" filter="url(#sb)">MEP</text>
<rect x="502.6" y="259.83" width="8" height="26.17" fill="#000"/>
<rect x="502.6" y="245.17" width="8" height="14.67" fill="#bfbfbf"/>
<rect x="502.6" y="237.58" width="8" height="7.58" fill="#fff"/>
<path d="M503.1 286V237.58M510.1 237.58V286" fill="none" stroke="#000" stroke-width="1"/>
<line x1="502.6" y1="237.98" x2="510.6" y2="237.98" stroke="#000" stroke-width="0.8"/>
<line x1="502.6" y1="259.83" x2="510.6" y2="259.83" stroke="#000" stroke-width="0.75"/>
<line x1="502.6" y1="245.17" x2="510.6" y2="245.17" stroke="#000" stroke-width="0.75"/>
<text transform="translate(508.69 289.8) rotate(-90) scale(1 1)" font-size="5.8" fill="#595959" stroke="#595959" stroke-width="0.08" text-anchor="end" filter="url(#sb)">COM</text>
<rect x="521.2" y="263.5" width="8" height="22.5" fill="#000"/>
<rect x="521.2" y="241.5" width="8" height="22" fill="#bfbfbf"/>
<rect x="521.2" y="230.25" width="8" height="11.25" fill="#fff"/>
<path d="M521.7 286V230.25M528.7 230.25V286" fill="none" stroke="#000" stroke-width="1"/>
<line x1="521.2" y1="230.65" x2="529.2" y2="230.65" stroke="#000" stroke-width="0.8"/>
<line x1="521.2" y1="263.5" x2="529.2" y2="263.5" stroke="#000" stroke-width="0.75"/>
<line x1="521.2" y1="241.5" x2="529.2" y2="241.5" stroke="#000" stroke-width="0.75"/>
<text transform="translate(527.29 289.8) rotate(-90) scale(1 1)" font-size="5.8" fill="#595959" stroke="#595959" stroke-width="0.08" text-anchor="end" filter="url(#sb)">V-C</text>
<text x="409.1" y="163.7" font-size="9.6" fill="#595959" text-anchor="middle">H1N1pdm</text>
<rect x="549.4" y="73.7" width="7.8" height="7.8" fill="#fff" stroke="#262626" stroke-width="1"/>
<text x="568.9" y="81.9" font-size="12.6" fill="#262626" stroke="#262626" stroke-width="0.25">Not seroprotected</text>
<rect x="549.4" y="108.8" width="7.8" height="7.8" fill="#bfbfbf" stroke="#262626" stroke-width="1"/>
<text x="568.9" y="109.6" font-size="12.6" fill="#262626" stroke="#262626" stroke-width="0.25">Seroprotected after</text>
<text x="568.9" y="124.6" font-size="12.6" fill="#262626" stroke="#262626" stroke-width="0.25">vaccination</text>
<rect x="549.4" y="144.4" width="7.8" height="7.8" fill="#000" stroke="#262626" stroke-width="1"/>
<text x="568.9" y="149.7" font-size="12.6" fill="#262626" stroke="#262626" stroke-width="0.25">Seroprotected before</text>
<text x="568.9" y="164.4" font-size="12.6" fill="#262626" stroke="#262626" stroke-width="0.25">vaccination</text>
</svg>
</body></html>
